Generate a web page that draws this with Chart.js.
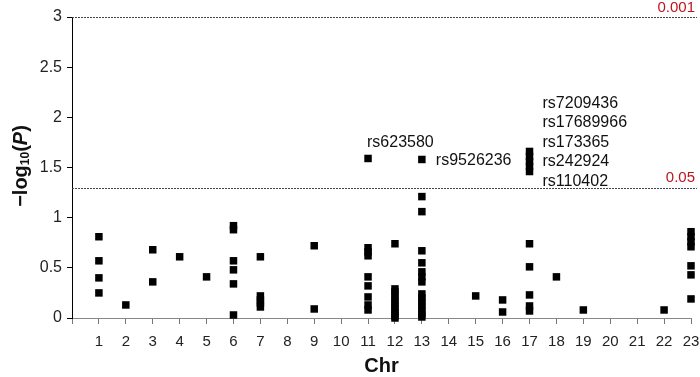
<!DOCTYPE html>
<html>
<head>
<meta charset="utf-8">
<script src="https://cdn.jsdelivr.net/npm/chart.js@4/dist/chart.umd.min.js"></script>
<style>
  html, body { margin: 0; padding: 0; background: #fff; }
  #wrap { width: 700px; height: 377px; }
</style>
</head>
<body>
<div id="wrap"><canvas id="myChart"></canvas></div>
<script>
// chromosome positions with hits and their -log10(P) values
const hitChr = [1, 2, 3, 4, 5, 6, 7, 9, 11, 12, 13, 15, 16, 17, 18, 19, 22, 23];
const hitValues = [
  [0.81, 0.57, 0.40, 0.25],
  [0.13],
  [0.68, 0.36],
  [0.61],
  [0.41],
  [0.92, 0.88, 0.57, 0.48, 0.34, 0.03],
  [0.61, 0.22, 0.18, 0.15, 0.11],
  [0.72, 0.09],
  [1.59, 0.70, 0.66, 0.62, 0.41, 0.32, 0.21, 0.13, 0.08],
  [0.74, 0.29, 0.26, 0.22, 0.18, 0.15, 0.11, 0.08, 0.05, 0.02, 0.0],
  [1.58, 1.21, 1.06, 0.67, 0.55, 0.46, 0.41, 0.36, 0.24, 0.20, 0.16, 0.12, 0.08, 0.04, 0.01],
  [0.22],
  [0.18, 0.06],
  [1.66, 1.61, 1.56, 1.51, 1.46, 0.74, 0.51, 0.23, 0.12, 0.07],
  [0.41],
  [0.08],
  [0.08],
  [0.86, 0.81, 0.76, 0.71, 0.52, 0.43, 0.19]
];

// significance thresholds (-log10 P) and their P labels
const thresholdValues = [3, 1.3];
const thresholdLabels = ["0.001", "0.05"];

// SNP names next to the top hits
const snp11 = ["rs623580"];
const snp13 = ["rs9526236"];
const snp17 = ["rs7209436", "rs17689966", "rs173365", "rs242924", "rs110402"];

var points = [];
for (var i = 0; i < hitChr.length; i++) {
  for (var j = 0; j < hitValues[i].length; j++) {
    points.push({ x: hitChr[i], y: hitValues[i][j] });
  }
}

var FONT = "'Liberation Sans', Arial, sans-serif";

//dashed threshold lines, labels and axis titles
var extras = {
  id: 'extras',
  beforeDatasetsDraw(chart) {
    let ctx = chart.ctx;
    let yS = chart.scales.y;
    let area = chart.chartArea;
    ctx.save();
    ctx.strokeStyle = '#444';
    ctx.lineWidth = 1;
    ctx.setLineDash([2, 1]);
    thresholdValues.forEach(v => {
      let y = Math.round(yS.getPixelForValue(v)) + 0.5;
      ctx.beginPath();
      ctx.moveTo(area.left, y);
      ctx.lineTo(chart.width - 3, y);
      ctx.stroke();
    });
    ctx.restore();
  },
  afterDraw(chart) {
    let ctx = chart.ctx;
    let xS = chart.scales.x;
    let yS = chart.scales.y;
    ctx.save();
    // threshold labels
    ctx.fillStyle = '#c0141c';
    ctx.font = '15px ' + FONT;
    ctx.textAlign = 'right';
    ctx.textBaseline = 'bottom';
    thresholdValues.forEach((v, k) => {
      ctx.fillText(thresholdLabels[k], chart.width - 5, yS.getPixelForValue(v) - 2);
    });

    // snp names
    ctx.fillStyle = '#111';
    ctx.font = '16px ' + FONT;
    ctx.textAlign = 'left';
    ctx.textBaseline = 'middle';
    ctx.fillText(snp11[0], xS.getPixelForValue(11) - 1, yS.getPixelForValue(1.59) - 16);
    ctx.fillText(snp13[0], xS.getPixelForValue(13) + 14, yS.getPixelForValue(1.58) + 1);
    let top17 = yS.getPixelForValue(1.59) - 55;
    snp17.forEach((s, k) => {
      ctx.fillText(s, xS.getPixelForValue(17) + 13, top17 + k * 19.5);
    });

    // x title
    ctx.font = 'bold 20px ' + FONT;
    ctx.textAlign = 'center';
    ctx.textBaseline = 'middle';
    ctx.fillText('Chr', (chart.chartArea.left + chart.chartArea.right) / 2, 366);

    // y title with subscript
    ctx.translate(21, 166);
    ctx.rotate(-Math.PI / 2);
    let parts = [
      { t: '\u2212log', f: 'bold 20px ' + FONT, dy: 0 },
      { t: '10', f: 'bold 12px ' + FONT, dy: 5 },
      { t: '(', f: 'bold 20px ' + FONT, dy: 0 },
      { t: 'P', f: 'italic bold 20px ' + FONT, dy: 0 },
      { t: ')', f: 'bold 20px ' + FONT, dy: 0 }
    ];
    let total = 0;
    parts.forEach(p => { ctx.font = p.f; p.w = ctx.measureText(p.t).width; total += p.w; });
    let xPos = -total / 2;
    ctx.textAlign = 'left';
    parts.forEach(p => {
      ctx.font = p.f;
      ctx.fillText(p.t, xPos, p.dy);
      xPos += p.w;
    });
    ctx.restore();
  }
};

var ctx = document.getElementById('myChart').getContext('2d');
var chart = new Chart(ctx, {
  type: 'scatter',
  data: {
    datasets: [{
      data: points,
      pointStyle: 'rect',
      pointRadius: 5.3,
      pointHoverRadius: 5.3,
      backgroundColor: '#000',
      borderWidth: 0,
      clip: false
    }]
  },
  options: {
    responsive: true,
    maintainAspectRatio: false,
    animation: false,
    layout: { padding: { top: 17, right: 9, left: 0, bottom: 0 } },
    plugins: {
      legend: { display: false },
      tooltip: { enabled: false }
    },
    scales: {
      x: {
        type: 'linear',
        min: 0,
        max: 23,
        afterFit: s => { s.height = 59; s.paddingLeft = 0; s.paddingRight = 0; },
        ticks: {
          stepSize: 1,
          autoSkip: false,
          padding: 9,
          color: '#222',
          font: { family: FONT, size: 15 },
          callback: v => (v === 0 ? '' : String(v))
        },
        grid: { drawOnChartArea: false, drawTicks: true, tickLength: 6, color: '#777' },
        border: { color: '#888', width: 1 }
      },
      y: {
        min: 0,
        max: 3,
        afterFit: s => { s.width = 72; s.paddingTop = 0; s.paddingBottom = 0; },
        ticks: {
          stepSize: 0.5,
          padding: 5,
          color: '#222',
          font: { family: FONT, size: 16 },
          callback: v => String(v)
        },
        grid: { drawOnChartArea: false, drawTicks: true, tickLength: 5, color: '#000' },
        border: { color: '#000', width: 1 }
      }
    }
  },
  plugins: [extras]
});
</script>
</body>
</html>
